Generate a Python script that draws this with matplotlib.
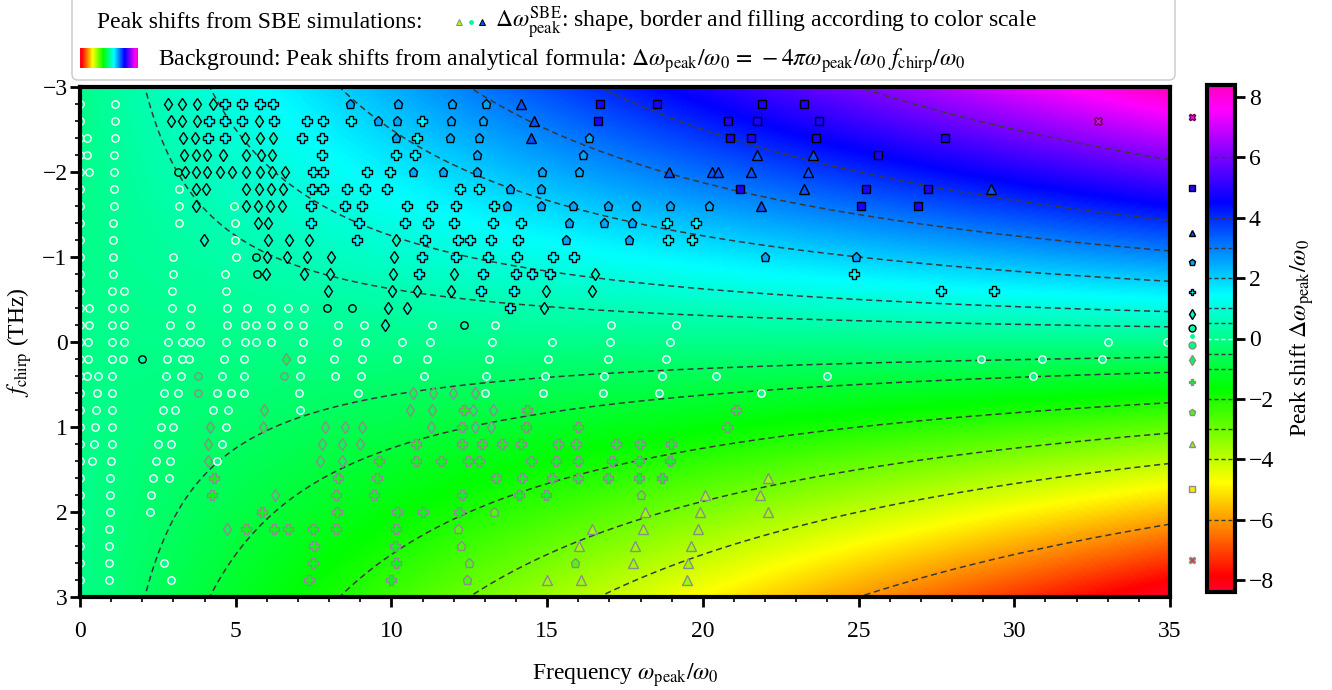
import numpy as np
import matplotlib
matplotlib.use("Agg")
import matplotlib.pyplot as plt
from matplotlib.colors import Normalize
from matplotlib.patches import FancyBboxPatch
from matplotlib.ticker import MultipleLocator

plt.rcParams['font.family'] = ['Liberation Serif', 'DejaVu Serif']
plt.rcParams['mathtext.fontset'] = 'stix'
plt.rcParams['font.size'] = 17

# analytical background: dw/w0 = -4 pi w f / w0, w0 = 2 pi 25 THz
OMEGA0 = 2 * np.pi * 25.0
VMAX = 8.4
levels = [-6, -4, -3, -2, -1, -0.5, 0.5, 1, 2, 3, 4, 6]
cb_ticks = [-8, -6, -4, -2, 0, 2, 4, 6, 8]

# SBE simulation points, grouped by marker class: {f_chirp: [omega_peak/omega0, ...]}
circle_zero = {
    -2.8: [0.0, 1.12], -2.6: [0.0, 1.12], -2.4: [0.0, 0.21, 1.12],
    -2.2: [0.0, 0.21, 1.09], -2.0: [0.0, 0.29, 1.09], -1.8: [0.0, 1.09, 3.18],
    -1.6: [0.0, 1.09, 3.18, 4.95], -1.4: [0.0, 1.07, 3.18, 4.98],
    -1.2: [0.0, 1.07, 4.98], -1.0: [0.0, 1.07, 2.98, 5.0],
    -0.8: [0.0, 1.07, 2.98, 4.66], -0.6: [0.0, 1.02, 1.42, 2.94, 4.68],
    -0.4: [0.0, 0.29, 1.04, 1.42, 2.94, 3.55, 4.71, 5.35, 6.13, 6.67, 7.19],
    -0.2: [0.0, 0.29, 1.04, 1.42, 2.89, 3.53, 4.71, 5.30, 5.65, 6.13, 6.69, 7.17,
           8.27, 9.13, 11.29, 13.33, 17.04, 19.14],
    0.0: [0.0, 0.27, 1.04, 1.41, 2.84, 3.26, 3.53, 3.85, 4.68, 5.30, 5.64, 6.12,
          7.15, 8.24, 9.15, 10.33, 11.24, 13.24, 15.15, 17.02, 18.94, 33.02, 34.89],
    0.2: [0.0, 0.25, 1.04, 1.39, 2.78, 3.26, 3.51, 4.62, 5.28, 7.1, 8.16, 9.07,
          10.19, 11.15, 13.13, 15.04, 16.94, 18.81, 28.92, 30.90, 32.81],
    0.4: [0.0, 0.21, 0.57, 1.02, 2.75, 3.23, 4.55, 5.28, 7.08, 8.19, 9.01, 11.06,
          13.04, 14.94, 16.84, 18.70, 20.41, 23.98, 30.59],
    0.6: [0.0, 0.53, 1.02, 2.71, 3.16, 4.39, 4.84, 5.28, 7.04, 8.92, 13.0, 14.88,
          16.78, 18.59, 21.86],
    0.8: [0.0, 0.50, 1.02, 2.65, 3.05, 4.26, 4.76, 7.06],
    1.0: [0.0, 0.48, 1.02, 2.59, 2.98, 4.69],
    1.2: [0.0, 0.45, 1.02, 2.52, 2.92, 4.55],
    1.4: [0.0, 0.37, 0.99, 2.43, 2.89, 4.41],
    1.6: [0.0, 0.96, 2.33, 2.86], 1.8: [0.0, 0.96, 2.28], 2.0: [0.0, 0.96, 2.24],
    2.2: [0.0, 0.94], 2.4: [0.0, 0.94], 2.6: [0.0, 0.92, 2.69], 2.8: [0.0, 0.94, 2.91],
}
circle_pos = {-2.0: [3.14], -1.0: [5.65], -0.8: [5.68], -0.4: [7.92, 8.72],
              -0.2: [12.33], 0.2: [2.0]}
circle_neg = {0.4: [3.78, 6.54], 0.6: [3.78]}
diamond_pos = {
    -2.8: [2.84, 3.29, 3.75, 4.28], -2.6: [2.91, 3.29, 3.75, 5.76],
    -2.4: [3.32, 3.69, 5.30, 5.78, 6.19], -2.2: [3.35, 3.71, 4.09, 4.58, 5.32, 5.80, 6.18],
    -2.0: [3.37, 3.71, 4.07, 4.51, 4.89, 5.32, 5.78, 6.15, 6.58],
    -1.8: [3.71, 4.05, 5.33, 5.76, 6.13, 6.53], -1.6: [3.71, 5.33, 5.73, 6.10, 6.48],
    -1.4: [5.73, 6.05], -1.2: [3.99, 6.03, 6.71, 7.36, 10.15],
    -1.0: [6.0, 6.65, 7.28, 8.06, 10.09], -0.8: [5.97, 7.19, 8.03, 10.06, 12.01, 16.54],
    -0.6: [7.97, 10.01, 10.81, 11.91, 14.96, 16.43], -0.4: [9.88, 10.51, 14.9],
    -0.2: [9.79],
}
diamond_neg = {
    0.2: [6.61], 0.6: [10.68, 11.35, 11.97, 12.68], 0.8: [5.91, 10.6, 11.31, 12.63, 13.27],
    1.0: [4.17, 5.89, 7.87, 8.51, 9.04, 11.27, 12.68, 13.20],
    1.2: [4.12, 7.78, 8.42, 9.0], 1.4: [4.12, 7.71, 8.42], 1.8: [6.27], 2.2: [4.71],
}
plus_pos = {
    -2.8: [4.66, 5.19, 5.78, 6.21], -2.6: [4.14, 4.66, 5.19, 6.22, 7.28, 7.79, 8.69, 10.97],
    -2.4: [4.12, 4.66, 7.14, 7.76, 10.81], -2.2: [7.76, 10.15, 10.76],
    -2.0: [7.49, 7.81, 9.23, 9.95], -1.8: [7.44, 7.81, 8.56, 9.15, 9.85, 12.20, 12.81],
    -1.6: [7.42, 8.51, 9.04, 10.49, 11.29, 12.07, 13.30],
    -1.4: [7.42, 8.96, 10.43, 11.18, 12.01, 13.25, 14.15, 18.84, 19.77],
    -1.2: [8.88, 11.08, 12.15, 12.52, 13.19, 14.05, 18.89, 19.64],
    -1.0: [10.97, 12.06, 13.09, 14.02, 15.20, 15.87],
    -0.8: [10.90, 12.95, 14.0, 14.52, 15.09, 24.85],
    -0.6: [12.87, 13.94, 27.65, 29.35], -0.4: [13.81],
}
plus_neg = {
    0.8: [12.33, 14.36, 21.06], 1.0: [12.28, 14.32, 16.0, 20.76],
    1.2: [10.78, 12.28, 12.90, 13.56, 14.16, 15.34, 15.93, 17.20, 17.98, 18.98],
    1.4: [9.61, 10.78, 11.58, 12.47, 12.81, 14.47, 15.27, 15.98, 17.09, 17.96, 18.95],
    1.6: [4.31, 8.29, 9.54, 13.36, 14.20, 15.17, 15.98, 16.94, 17.95, 18.70],
    1.8: [4.23, 8.21, 9.45, 12.28, 14.10, 14.96],
    2.0: [5.83, 8.24, 10.19, 11.02, 12.17],
    2.2: [5.32, 6.23, 6.69, 7.47, 8.21, 10.14],
    2.4: [7.51, 10.11], 2.6: [7.49, 10.14], 2.8: [7.36, 9.99],
}
pent_pos = {
    -2.8: [8.67, 10.22, 11.96, 13.03], -2.6: [9.56, 10.17, 11.91, 12.93],
    -2.4: [10.15, 11.88, 12.81, 16.36], -2.2: [12.74, 16.14],
    -2.0: [10.70, 11.65, 12.76, 14.85, 16.03], -1.8: [13.81, 14.79],
    -1.6: [13.72, 14.79, 15.84, 16.97, 17.84, 18.95, 20.20],
    -1.4: [15.71, 16.83, 17.74], -1.2: [15.61, 17.63], -1.0: [22.0, 24.92],
}
pent_neg = {1.8: [18.0], 2.0: [13.30], 2.2: [12.13], 2.4: [12.22],
            2.6: [12.50, 15.89], 2.8: [12.44]}
tri_pos = {-2.8: [14.15], -2.6: [14.59], -2.4: [14.48], -2.2: [21.75, 23.53],
           -2.0: [18.91, 20.28, 20.50, 21.55, 23.39], -1.8: [23.26, 29.25], -1.6: [21.86]}
tri_neg = {1.6: [22.08], 1.8: [20.07, 21.83], 2.0: [18.14, 19.91, 22.10],
           2.2: [16.43, 18.09, 19.83], 2.4: [16.02, 17.82, 19.61],
           2.6: [17.75, 19.51], 2.8: [14.98, 16.09, 19.50]}
square_pos = {-2.8: [16.70, 18.52, 21.89, 23.25], -2.6: [16.62, 20.82, 21.73, 23.74],
              -2.4: [20.87, 21.55, 23.63, 27.78], -2.2: [25.63],
              -1.8: [21.19, 25.24, 27.22], -1.6: [25.07, 26.90]}
cross_pos = {-2.6: [32.70]}

# marker class: points, marker, class value (colour), edge colour, size
classes = [
    (circle_zero, 'o', 0.0, 'white', 5.3),
    (circle_pos, 'o', 0.4, 'black', 5.3),
    (circle_neg, 'o', -0.4, '#8c8c8c', 5.3),
    (diamond_pos, 'd', 0.75, 'black', 6.5),
    (diamond_neg, 'd', -0.75, '#8c8c8c', 6.5),
    (plus_pos, 'P', 1.5, 'black', 6.8),
    (plus_neg, 'P', -1.5, '#8c8c8c', 6.8),
    (pent_pos, 'p', 2.5, 'black', 6.5),
    (pent_neg, 'p', -2.5, '#8c8c8c', 6.5),
    (tri_pos, '^', 3.5, 'black', 6.8),
    (tri_neg, '^', -3.5, '#8c8c8c', 6.8),
    (square_pos, 's', 4.8, 'black', 6.0),
    (cross_pos, 'X', 7.3, '#660044', 6.0),
]

# key column next to the colour bar
key_vals = [7.35, 5.0, 3.5, 2.55, 1.55, 0.8, 0.35, 0.08, -0.2, -0.72, -1.45, -2.45, -3.5, -5.0, -7.35]
key_marks = ['X', 's', '^', 'p', 'P', 'd', 'o', 'o', 'o', 'd', 'P', 'p', '^', 's', 'X']
key_edges = ['#660044', 'black', 'black', 'black', 'black', 'black', 'black', 'none',
             '#8c8c8c', '#8c8c8c', '#8c8c8c', '#8c8c8c', '#8c8c8c', '#8c8c8c', '#8c8c8c']

cmap = plt.get_cmap('gist_rainbow')
norm = Normalize(-VMAX, VMAX)

fig = plt.figure(figsize=(13.32, 6.9), dpi=100)
W, H = 1332.0, 690.0


def box(x0, y0, x1, y1):
    return [x0 / W, 1 - y1 / H, (x1 - x0) / W, (y1 - y0) / H]


ax = fig.add_axes(box(80, 87, 1170, 597))
w = np.linspace(0, 35, 600)
fc = np.linspace(-3, 3, 300)
WW, FF = np.meshgrid(w, fc)
Z = -4 * np.pi * WW * FF / OMEGA0
im = ax.imshow(Z, extent=[0, 35, -3, 3], origin='lower', aspect='auto',
               cmap=cmap, norm=norm, interpolation='bilinear')
ax.contour(WW, FF, Z, levels=levels, colors='#3a3a3a', linewidths=1.1,
           linestyles=[(0, (4, 2.5))])

for pts, mk, val, ec, ms in classes:
    xs = [x for f, row in pts.items() for x in row]
    ys = [f for f, row in pts.items() for x in row]
    ax.plot(xs, ys, ls='none', marker=mk, ms=ms, mfc=cmap(norm(val)), mec=ec,
            mew=1.0, zorder=3)

ax.set_xlim(0, 35)
ax.set_ylim(3, -3)
ax.xaxis.set_major_locator(MultipleLocator(5))
ax.xaxis.set_minor_locator(MultipleLocator(1))
ax.yaxis.set_major_locator(MultipleLocator(1))
ax.yaxis.set_minor_locator(MultipleLocator(0.2))
ax.tick_params(which='major', direction='out', length=7, width=2, labelsize=17)
ax.tick_params(which='minor', direction='out', length=3.5, width=1.2)
ax.tick_params(axis='x', which='major', pad=10)
ax.tick_params(axis='y', which='major', pad=2)
for s in ax.spines.values():
    s.set_linewidth(3)
    s.set_zorder(5)
ax.set_xlabel(r"Frequency $\omega_{\mathrm{peak}}/\omega_0$", fontsize=17, labelpad=14)
ax.set_ylabel(r"$f_{\mathrm{chirp}}$ (THz)", fontsize=17, labelpad=6)

# colour bar
cax = fig.add_axes(box(1207, 85, 1235, 592))
cb = fig.colorbar(im, cax=cax)
cb.set_ticks(cb_ticks)
cb.outline.set_linewidth(3)
cax.tick_params(direction='out', length=7, width=2, labelsize=17, pad=3)
for lv in levels:
    cax.axhline(lv, color='#3a3a3a', lw=1.0, ls=(0, (3, 2)))
cax.axhline(0, color='white', lw=1.0, ls=(0, (3, 2)))
cb.set_label(r"Peak shift $\Delta\omega_{\mathrm{peak}}/\omega_0$", fontsize=17, labelpad=10)

# marker key column
kax = fig.add_axes(box(1178, 85, 1206, 592))
kax.set_xlim(0, 1)
kax.set_ylim(-VMAX, VMAX)
kax.axis('off')
for v, mk, ec in zip(key_vals, key_marks, key_edges):
    ms = 3.5 if ec == 'none' else 5
    kax.plot([0.5], [v], ls='none', marker=mk, ms=ms, mfc=cmap(norm(v)), mec=ec, mew=1.0)

# legend box at the top
lax = fig.add_axes([0, 0, 1, 1], zorder=-1)
lax.set_xlim(0, W)
lax.set_ylim(H, 0)
lax.axis('off')
lax.add_patch(FancyBboxPatch((72, -6), 1103, 86, boxstyle='round,pad=0,rounding_size=6',
                             fc='white', ec='#c8c8c8', lw=1, zorder=1))
lax.text(97, 28, "Peak shifts from SBE simulations:", fontsize=17, va='baseline')
lax.plot([459], [22], marker='^', ms=4.5, ls='none', mfc=cmap(norm(-3.5)), mec='#8c8c8c', mew=0.7, zorder=3)
lax.plot([471], [22], marker='o', ms=3.5, ls='none', mfc=cmap(norm(0.1)), mec='none', zorder=3)
lax.plot([482], [22], marker='^', ms=4.5, ls='none', mfc=cmap(norm(3.5)), mec='black', mew=0.7, zorder=3)
lax.text(495, 28, r"$\Delta\omega_{\mathrm{peak}}^{\mathrm{SBE}}$: shape, border and filling according to color scale",
         fontsize=17, va='baseline')
lax.imshow(np.linspace(0, 1, 200)[None, :], extent=[80, 138, 68, 48], aspect='auto',
           cmap=cmap, zorder=2)
lax.text(158, 66, r"Background: Peak shifts from analytical formula: "
         r"$\Delta\omega_{\mathrm{peak}}/\omega_0\,=\,-4\pi\omega_{\mathrm{peak}}/\omega_0\ f_{\mathrm{chirp}}/\omega_0$",
         fontsize=17, va='baseline')
lax.set_xlim(0, W)
lax.set_ylim(H, 0)

fig.savefig("out.png", dpi=100)
